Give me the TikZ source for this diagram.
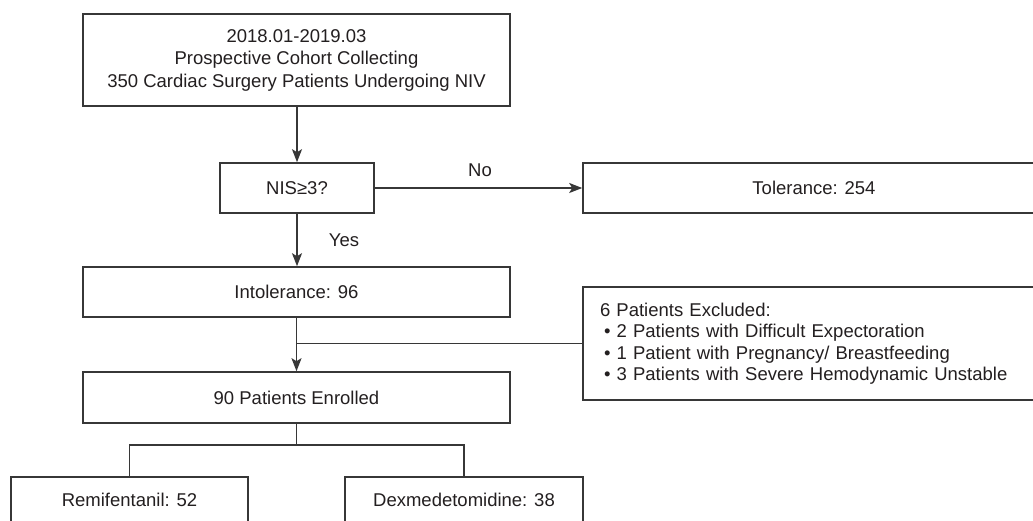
\documentclass[tikz,border=0pt]{standalone}
\usepackage{fontspec}
\setmainfont{Liberation Sans}
\usetikzlibrary{arrows.meta}
\definecolor{linec}{RGB}{55,55,55}
\definecolor{textc}{RGB}{35,31,32}
\tikzset{
  box/.style={draw=linec, line width=1.6pt, inner sep=0pt, text=textc, align=center,
    font=\fontsize{18.5}{22.5}\selectfont},
  conn/.style={draw=linec, line width=1.6pt},
  arr/.style={conn, -{Stealth[length=13pt, width=10pt, inset=3pt]}},
  lbl/.style={text=textc, font=\fontsize{18.5}{22.5}\selectfont, inner sep=0pt}
}
\begin{document}
\begin{tikzpicture}[x=1pt, y=-1pt]
\useasboundingbox (0,0) rectangle (1033,521);
\fill[white] (0,0) rectangle (1033,521);
\node[box, minimum width=427, minimum height=92] (top) at (296.5,60)
  {2018.01-2019.03\\Prospective Cohort Collecting\\350 Cardiac Surgery Patients Undergoing NIV};
\node[box, minimum width=154, minimum height=50] (nis) at (297,188) {NIS≥3?};
\node[box, minimum width=462, minimum height=50] (tol) at (814,188) {Tolerance: 254};
\node[box, minimum width=427, minimum height=50] (intol) at (296.5,292) {Intolerance: 96};
\node[box, minimum width=462, minimum height=113, text width=428, inner xsep=17pt, align=left,
  font=\fontsize{18.5}{21.5}\selectfont] (excl) at (814,343.5)
  {6 Patients Excluded:\\
   \hspace*{4pt}• 2 Patients with Difficult Expectoration\\
   \hspace*{4pt}• 1 Patient with Pregnancy/ Breastfeeding\\
   \hspace*{4pt}• 3 Patients with Severe Hemodynamic Unstable};
\node[box, minimum width=427, minimum height=51] (enr) at (296.5,397.5) {90 Patients Enrolled};
\node[box, minimum width=237, minimum height=46] (rem) at (129.5,500) {Remifentanil: 52};
\node[box, minimum width=238, minimum height=46] (dex) at (464,500) {Dexmedetomidine: 38};

\draw[arr] (top.south -| nis.north) -- (nis.north);
\draw[arr] (nis.east) -- (tol.west);
\node[lbl] (no) at (480,170) {No};
\draw[arr] (nis.south) -- (intol.north -| nis.south);
\node[lbl] (yes) at (344,240) {Yes};
\draw[arr] (intol.south) -- (enr.north);
\coordinate (b) at (intol.south |- excl.west);
\draw[conn] (b) -- (excl.west);
\coordinate (j) at (296.5,445);
\draw[conn] (enr.south) -- (j);
\draw[conn] (rem.north) |- (j) -| (dex.north);
\end{tikzpicture}
\end{document}
